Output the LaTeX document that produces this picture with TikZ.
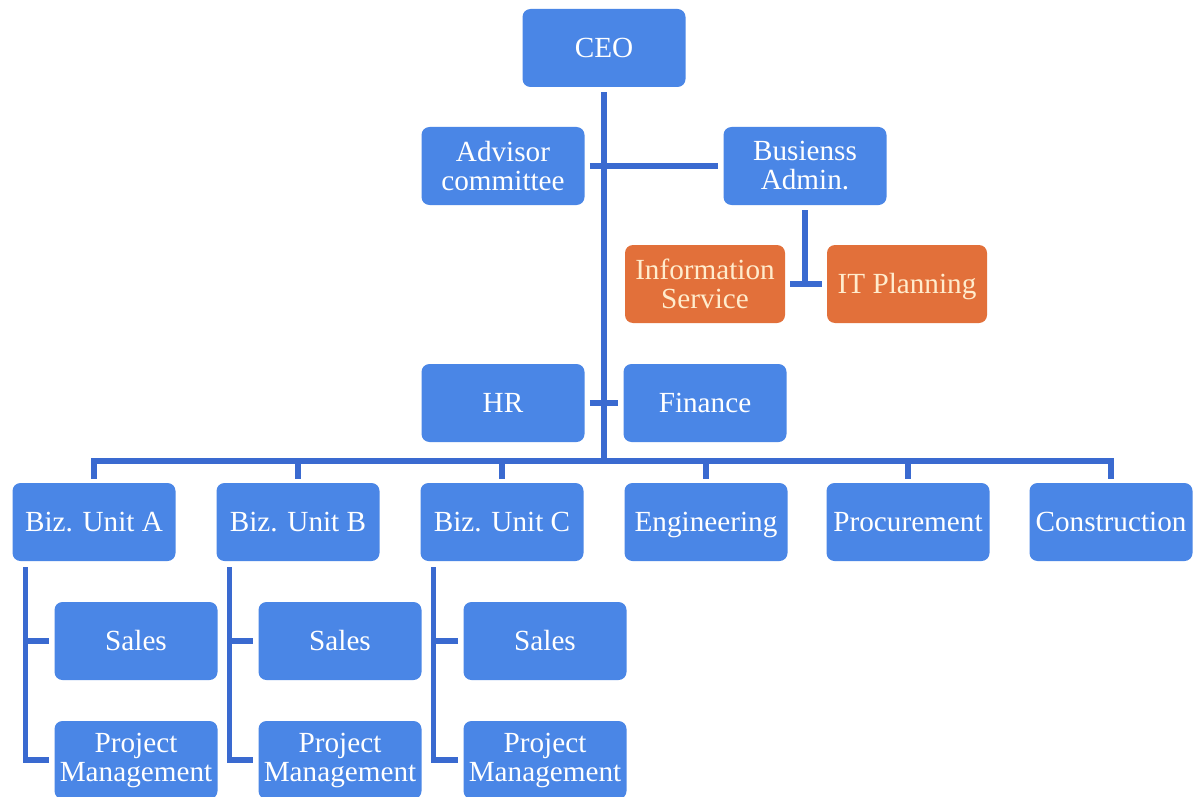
\documentclass[tikz,border=0pt]{standalone}
\usepackage{fontspec}
\setmainfont{Liberation Serif}
\definecolor{boxblue}{RGB}{74,134,230}
\definecolor{lineblue}{RGB}{58,106,208}
\definecolor{boxorange}{RGB}{226,112,58}
\definecolor{textcream}{RGB}{255,236,205}
\begin{document}
\begin{tikzpicture}[x=0.5pt,y=-0.5pt,
  box/.style={rectangle, rounded corners=4pt, fill=boxblue, text=white, align=center,
    minimum width=81.5pt, minimum height=39pt, inner sep=0pt,
    font=\fontsize{14.6}{14.5}\selectfont},
  sl/.style={text height=13pt, text depth=3.3pt},
  obox/.style={box, fill=boxorange, text=textcream, minimum width=80pt},
  conn/.style={draw=lineblue, line width=2.6pt}]
\useasboundingbox (0,0) rectangle (1194,797);
\fill[white] (0,0) rectangle (1194,797);
% top
\node[box,sl] (ceo) at (604,48) {CEO};
\node[box] (adv) at (503,166) {Advisor\\committee};
\node[box] (ba) at (805,166) {Busienss\\Admin.};
\node[obox] (is) at (705,284) {Information\\Service};
\node[obox,sl] (itp) at (907,284) {IT Planning};
\node[box,sl] (hr) at (503,403) {HR};
\node[box,sl] (fin) at (705,403) {Finance};
% row
\node[box,sl] (bua) at (94,522) {Biz. Unit A};
\node[box,sl] (bub) at (298,522) {Biz. Unit B};
\node[box,sl] (buc) at (502,522) {Biz. Unit C};
\node[box,sl] (eng) at (706,522) {Engineering};
\node[box,sl] (proc) at (908,522) {Procurement};
\node[box,sl] (cons) at (1111,522) {Construction};
% sub
\node[box,sl] (sa) at (136,641) {Sales};
\node[box,sl] (sb) at (340,641) {Sales};
\node[box,sl] (sc) at (545,641) {Sales};
\node[box] (pma) at (136,760) {Project\\Management};
\node[box] (pmb) at (340,760) {Project\\Management};
\node[box] (pmc) at (545,760) {Project\\Management};
% connectors
\coordinate (tb) at (604,461);
\draw[conn, shorten <=2.5pt] (ceo.south) -- (tb);
\draw[conn, shorten <=2.5pt, shorten >=2.5pt] (adv.east) -- (ba.west);
\coordinate (bat) at (805,284);
\draw[conn, shorten <=2.5pt] (ba.south) -- (bat);
\draw[conn, shorten <=2.5pt, shorten >=2.5pt] (is.east) -- (itp.west);
\draw[conn, shorten <=2.5pt, shorten >=2.5pt] (hr.east) -- (fin.west);
\draw[conn, shorten <=2pt, shorten >=2pt] (bua.north) |- (tb) -| (cons.north);
\foreach \n in {bub,buc,eng,proc}
  \draw[conn, shorten <=2pt] (\n.north) -- (\n.north |- tb);
\foreach \u/\s/\p in {bua/sa/pma,bub/sb/pmb,buc/sc/pmc}{
  \coordinate (t\u) at ([xshift=6.5pt]\u.south west);
  \draw[conn, shorten <=3pt, shorten >=2.5pt] (t\u) |- (\p.west);
  \draw[conn, shorten >=2.5pt] (t\u |- \s.west) -- (\s.west);
}
\end{tikzpicture}
\end{document}
